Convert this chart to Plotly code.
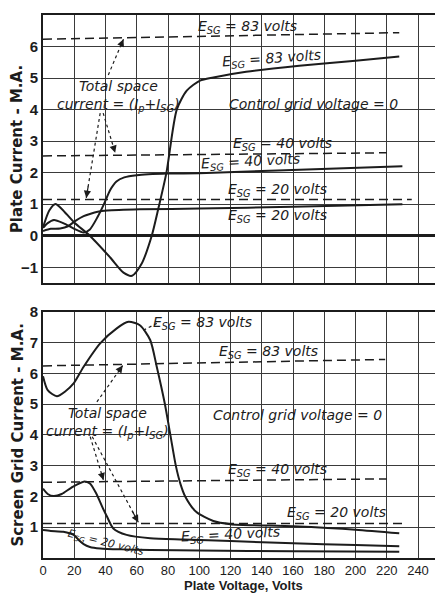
import plotly.graph_objects as go

# --- plate current curves (top panel), volts vs mA ---
plate_83_v = [0, 4, 8, 12, 20, 30, 43, 51.5, 57, 63, 69.6, 74, 79, 85.6, 92, 100.5, 109, 130, 164, 200, 228]
plate_83_i = [0.26, 0.8, 1.01, 0.85, 0.42, 0.0, -0.69, -1.17, -1.27, -0.9, 0.0, 0.9, 2.0, 4.0, 4.6, 4.92, 5.02, 5.2, 5.39, 5.55, 5.68]

plate_40_v = [0, 3, 7, 13, 20, 26, 30, 35, 39, 43, 47, 52, 60, 80, 100, 150, 230]
plate_40_i = [0.25, 0.4, 0.5, 0.4, 0.22, 0.1, 0.2, 0.6, 1.0, 1.45, 1.72, 1.85, 1.92, 1.97, 1.98, 2.07, 2.2]

plate_20_v = [0, 5, 11, 16, 21, 26, 30, 35, 41, 62, 100, 160, 230]
plate_20_i = [0.15, 0.22, 0.23, 0.3, 0.48, 0.62, 0.69, 0.76, 0.8, 0.84, 0.86, 0.92, 1.0]

# total space current (dashed), top panel
total_83_top_v = [0, 228]
total_83_top_i = [6.23, 6.44]
total_40_top_v = [0, 220]
total_40_top_i = [2.53, 2.63]
total_20_top_v = [0, 236]
total_20_top_i = [1.15, 1.15]

# --- screen grid current curves (bottom panel) ---
screen_83_v = [0, 3, 8.9, 14, 19.6, 26, 36.6, 47.2, 54.7, 62, 68.6, 72.8, 78, 81.5, 85, 88, 91, 98, 109, 120, 160, 200, 228]
screen_83_i = [5.9, 5.45, 5.25, 5.4, 5.67, 6.21, 6.97, 7.46, 7.67, 7.56, 7.08, 6.21, 5.0, 4.0, 3.0, 2.4, 2.0, 1.5, 1.2, 1.1, 1.03, 0.92, 0.8]

screen_40_v = [0, 3, 6.8, 12, 18, 26, 30, 34, 38, 41, 45, 53.5, 68.6, 90, 120, 160, 200, 228]
screen_40_i = [2.25, 2.08, 2.01, 2.08, 2.28, 2.48, 2.42, 2.1, 1.65, 1.34, 0.96, 0.75, 0.64, 0.6, 0.55, 0.48, 0.42, 0.38]

screen_20_v = [0, 5, 13, 19.6, 23, 26, 30, 36.6, 50, 68.6, 100, 160, 228]
screen_20_i = [0.91, 0.88, 0.85, 0.75, 0.58, 0.45, 0.36, 0.31, 0.28, 0.26, 0.24, 0.22, 0.2]

total_83_bot_v = [0, 219]
total_83_bot_i = [6.24, 6.45]
total_40_bot_v = [0, 220]
total_40_bot_i = [2.46, 2.57]
total_20_bot_v = [0, 230]
total_20_bot_i = [1.12, 1.12]

x_ticks = list(range(0, 241, 20))
top_y_ticks = list(range(-1, 8))
bot_y_ticks = list(range(1, 9))

INK = '#1c1c1c'
GRID = '#3a3a3a'
FONT = 'Liberation Sans, Arial, sans-serif'
WIDE = 'DejaVu Sans, Verdana, sans-serif'

fig = go.Figure()


def solid(v, i, xa, ya):
    fig.add_trace(go.Scatter(x=v, y=i, xaxis=xa, yaxis=ya, mode='lines',
                             line=dict(color=INK, width=2, shape='spline', smoothing=0.7),
                             showlegend=False, hoverinfo='skip'))


def dashed(v, i, xa, ya):
    fig.add_trace(go.Scatter(x=v, y=i, xaxis=xa, yaxis=ya, mode='lines',
                             line=dict(color=INK, width=1.5, dash='9px,5px'),
                             showlegend=False, hoverinfo='skip'))


solid(plate_83_v, plate_83_i, 'x', 'y')
solid(plate_40_v, plate_40_i, 'x', 'y')
solid(plate_20_v, plate_20_i, 'x', 'y')
dashed(total_83_top_v, total_83_top_i, 'x', 'y')
dashed(total_40_top_v, total_40_top_i, 'x', 'y')
dashed(total_20_top_v, total_20_top_i, 'x', 'y')

solid(screen_83_v, screen_83_i, 'x2', 'y2')
solid(screen_40_v, screen_40_i, 'x2', 'y2')
solid(screen_20_v, screen_20_i, 'x2', 'y2')
dashed(total_83_bot_v, total_83_bot_i, 'x2', 'y2')
dashed(total_40_bot_v, total_40_bot_i, 'x2', 'y2')
dashed(total_20_bot_v, total_20_bot_i, 'x2', 'y2')

esg = 'E<sub>SG</sub>'
labels = [
    # (x, y, text, axis, angle, size)
    (131, 6.63, f'{esg} = 83 volts', '', 0, 14),
    (146, 5.62, f'{esg} = 83 volts', '', -4, 14),
    (48, 4.43, 'Total space<br>current = (I<sub>p</sub>+I<sub>SG</sub>)', '', 0, 14),
    (173, 4.19, 'Control grid voltage = 0', '', 0, 14),
    (153, 2.9, f'{esg} = 40 volts', '', 0, 14),
    (133, 2.35, f'{esg} = 40 volts', '', -3, 14),
    (150, 1.45, f'{esg} = 20 volts', '', 0, 14),
    (150, 0.62, f'{esg} = 20 volts', '', 0, 14),
    (102, 7.62, f'{esg} = 83 volts', '2', 0, 14),
    (144, 6.7, f'{esg} = 83 volts', '2', 0, 14),
    (41, 4.4, 'Total space<br>current = (I<sub>p</sub>+I<sub>SG</sub>)', '2', 0, 14),
    (163, 4.64, 'Control grid voltage = 0', '2', 0, 14),
    (150, 2.86, f'{esg} = 40 volts', '2', 0, 14),
    (188, 1.45, f'{esg} = 20 volts', '2', 0, 14),
    (120, 0.75, f'{esg} = 40 volts', '2', -3, 14),
    (40, 0.5, f'{esg} = 20 volts', '2', 14, 11),
]
annotations = []
for x, y, text, ax, ang, size in labels:
    annotations.append(dict(x=x, y=y, xref='x' + ax, yref='y' + ax, text=f'<i>{text}</i>',
                            showarrow=False, textangle=ang, borderpad=0,
                            font=dict(family=WIDE, size=size, color=INK)))

# x-axis title placed just under the tick labels
annotations.append(dict(x=0.5, y=0, xref='paper', yref='paper', yanchor='top', yshift=-18,
                        text='Plate Voltage, Volts', showarrow=False,
                        font=dict(family=FONT, size=13, color=INK, weight=600)))

# dotted pointer arrows: (x0, y0) -> (x1, y1)
arrows = [
    (41.8, 5.1, 51.5, 6.23, ''),
    (36.6, 3.89, 27.7, 1.2, ''),
    (38.5, 3.89, 46.2, 2.63, ''),
    (34.5, 5.07, 51, 6.25, '2'),
    (30.2, 3.94, 38.7, 2.53, '2'),
    (31.5, 3.94, 61, 1.16, '2'),
    (72.8, 7.62, 64.3, 7.4, '2'),
]
shapes = []
for x0, y0, x1, y1, ax in arrows:
    shapes.append(dict(type='line', x0=x0, y0=y0, x1=x1, y1=y1, xref='x' + ax, yref='y' + ax,
                       line=dict(color=INK, width=1.2, dash='dot')))
    annotations.append(dict(x=x1, y=y1, ax=x0 + (x1 - x0) * 0.85, ay=y0 + (y1 - y0) * 0.85,
                            xref='x' + ax, yref='y' + ax, axref='x' + ax, ayref='y' + ax,
                            text='', showarrow=True, arrowhead=2, arrowsize=1.2,
                            arrowwidth=1.2, arrowcolor=INK))

xbase = dict(range=[0, 256], tickvals=x_ticks, showgrid=True, gridcolor=GRID, gridwidth=1.3,
             zeroline=False, showline=True, linecolor=INK, linewidth=1.6, mirror=True,
             ticks='', ticklen=0, automargin=False,
             tickfont=dict(family=FONT, size=13, color=INK))
ybase = dict(showgrid=True, gridcolor=GRID, gridwidth=1.3, showline=True, linecolor=INK,
             linewidth=1.6, ticks='', ticklen=0, automargin=False,
             tickfont=dict(family=FONT, size=15, color=INK, weight=600),
             title_font=dict(family=WIDE, size=15, color=INK, weight=600), title_standoff=3)

# the page body adds an 8px margin, so the figure is sized to fit the window
fig.update_layout(
    width=435, height=586,
    margin=dict(l=35, r=0, t=7, b=36),
    paper_bgcolor='white', plot_bgcolor='white',
    showlegend=False,
    xaxis=dict(xbase, anchor='y', domain=[0, 1], showticklabels=False),
    xaxis2=dict(xbase, anchor='y2', domain=[0, 1]),
    yaxis=dict(ybase, domain=[0.5064, 1], range=[-1.5, 7], tickvals=top_y_ticks,
               zeroline=True, zerolinecolor=INK, zerolinewidth=2.6,
               title=dict(text='Plate Current - M.A.')),
    yaxis2=dict(ybase, domain=[0, 0.4536], range=[0, 8], tickvals=bot_y_ticks,
                zeroline=False, title=dict(text='Screen Grid Current - M.A.')),
    annotations=annotations,
    shapes=shapes,
)

fig.write_html("out.html")
